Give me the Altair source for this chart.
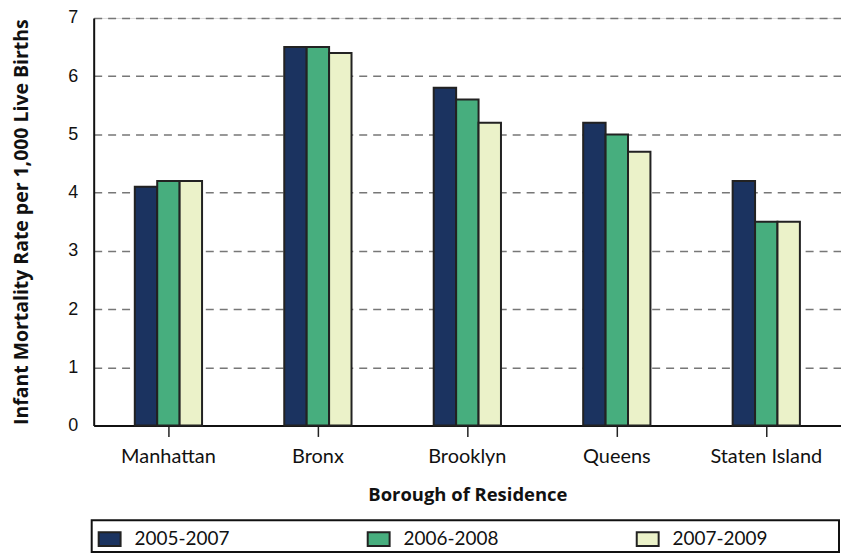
import altair as alt
import pandas as pd

boroughs = ["Manhattan", "Bronx", "Brooklyn", "Queens", "Staten Island"]
periods = ["2005-2007", "2006-2008", "2007-2009"]
rate_2005_2007 = [4.1, 6.5, 5.8, 5.2, 4.2]
rate_2006_2008 = [4.2, 6.5, 5.6, 5.0, 3.5]
rate_2007_2009 = [4.2, 6.4, 5.2, 4.7, 3.5]
colors = ["#1b3360", "#47ae7e", "#ebf2c9"]
y_ticks = [0, 1, 2, 3, 4, 5, 6, 7]

rows = []
for series, vals in zip(periods, [rate_2005_2007, rate_2006_2008, rate_2007_2009]):
    for b, v in zip(boroughs, vals):
        rows.append({"Borough": b, "Period": series, "Rate": v})
df = pd.DataFrame(rows)

W, H = 750, 409
rect_symbol = "M-1,-0.62L1,-0.62L1,0.62L-1,0.62Z"

bars = alt.Chart(df).mark_bar(stroke="#222222", strokeWidth=2).encode(
    x=alt.X("Borough:N", sort=boroughs,
            scale=alt.Scale(paddingInner=0.55, paddingOuter=0.275),
            axis=alt.Axis(title="Borough of Residence", labelAngle=0,
                          labelFont="Lato", labelFontSize=20, labelColor="#111",
                          labelPadding=10, tickSize=11, tickColor="#222", tickWidth=1.5,
                          domainColor="#111", domainWidth=2,
                          titleFont="Open Sans", titleFontSize=18.5, titleFontWeight="bold",
                          titleColor="#111", titlePadding=19)),
    xOffset=alt.XOffset("Period:N", sort=periods, scale=alt.Scale(paddingInner=0, paddingOuter=0)),
    y=alt.Y("Rate:Q", scale=alt.Scale(domain=[0, 7], nice=False),
            axis=alt.Axis(title="Infant Mortality Rate per 1,000 Live Births",
                          values=y_ticks, format="d", ticks=False,
                          labelFont="Liberation Sans", labelFontSize=18, labelColor="#111",
                          labelPadding=16, domainColor="#111", domainWidth=2,
                          grid=True, gridDash=[8, 6], gridColor="#777777", gridWidth=1.5,
                          titleFont="Open Sans", titleFontSize=19.5, titleFontWeight="bold",
                          titleColor="#111", titlePadding=36)),
    color=alt.Color("Period:N", sort=periods,
                    scale=alt.Scale(domain=periods, range=colors),
                    legend=alt.Legend(title=None, orient="none", direction="horizontal",
                                      legendX=4, legendY=H + 102,
                                      symbolType=rect_symbol, symbolSize=484,
                                      symbolStrokeColor="#222222", symbolStrokeWidth=2,
                                      labelFont="Lato", labelFontSize=19, labelColor="#111",
                                      labelOffset=13, columnPadding=134, padding=0)),
)

frame = alt.Chart(pd.DataFrame({"frame": [0]})).mark_rect(
    fill="transparent", stroke="#111111", strokeWidth=2
).encode(
    x=alt.value(-2), x2=alt.value(W - 2),
    y=alt.value(H + 95), y2=alt.value(H + 127),
)

chart = alt.layer(bars, frame).properties(
    width=W, height=H,
    padding={"left": 3, "top": 0, "right": 0, "bottom": 0},
).configure_view(
    stroke="#111111", strokeWidth=2
).configure(background="white")

chart.save("out.html", embed_options={"renderer": "svg", "actions": False})
